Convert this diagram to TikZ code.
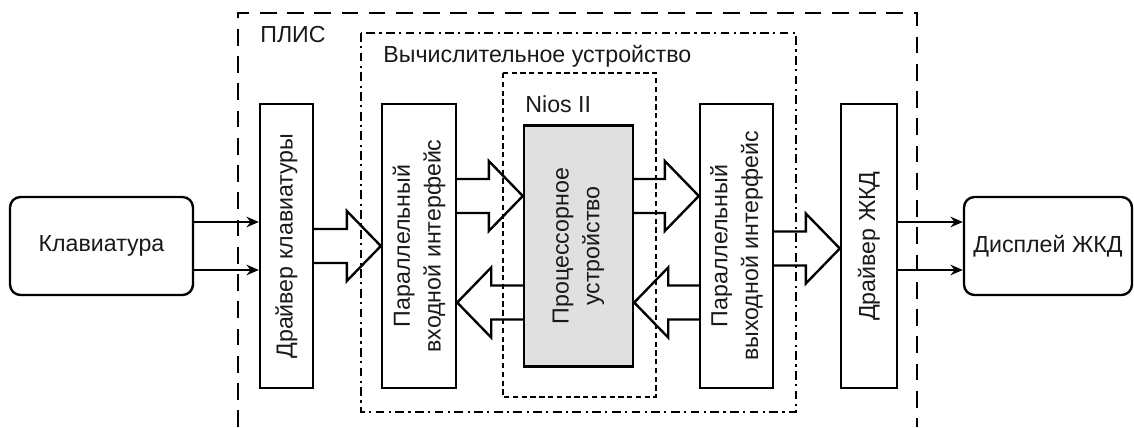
\documentclass[tikz,border=0pt]{standalone}
\usepackage{fontspec}
\setmainfont{Liberation Sans}
\usetikzlibrary{arrows.meta, positioning, calc}

% wide bus arrow: #1 from, #2 to, #3 vertical offset
\newcommand{\busshaft}{0.34cm}
\newcommand{\bushead}{0.70cm}
\newcommand{\busheadl}{0.68cm}
\newcommand{\busarrow}[3]{%
  \coordinate (bs) at ($(#1)+(0,#3)$);
  \coordinate (be) at ($(#2)+(0,#3)$);
  \coordinate (bh) at ($(be)!\busheadl!(bs)$);
  \draw[bus] ($(bs)!\busshaft!90:(be)$) -- ($(bh)!\busshaft!90:(be)$)
    -- ($(bh)!\bushead!90:(be)$) -- (be) -- ($(bh)!\bushead!-90:(be)$)
    -- ($(bh)!\busshaft!-90:(be)$) -- ($(bs)!\busshaft!-90:(be)$);
}

\begin{document}
\begin{tikzpicture}[
    every node/.style={font=\fontsize{13.2}{17.5}\selectfont, text=black!90},
    unit/.style={rectangle, draw=black, line width=1.35pt, minimum height=5.68cm, inner sep=0pt},
    device/.style={rectangle, rounded corners=6pt, draw=black, line width=1.35pt, minimum height=1.96cm, inner sep=0pt},
    vtext/.style={rotate=90, align=center, inner sep=0pt},
    title/.style={anchor=base west, inner sep=0pt},
    sig/.style={-{Stealth[length=7pt, width=6pt]}, line width=1.2pt},
    bus/.style={line width=1.35pt, line join=miter},
    plisbox/.style={line width=1.2pt, dash pattern=on 9.5pt off 6pt},
    vubox/.style={line width=1.2pt, dash pattern=on 5pt off 2.5pt on 1.2pt off 2.5pt},
    niosbox/.style={line width=1.2pt, dash pattern=on 3pt off 2pt}
]
\useasboundingbox (0,0) rectangle (22.68,-8.54);

% Containers
\draw[plisbox] (4.76,-8.54) |- (18.34,-0.26) -- (18.34,-8.54);
\node[title] (plis-t) at (5.20,-0.84) {ПЛИС};
\draw[vubox] (7.22,-0.66) rectangle (15.92,-8.24);
\node[title] (vu-t) at (7.66,-1.24) {Вычислительное устройство};
\draw[niosbox] (10.06,-1.46) rectangle (13.12,-7.94);
\node[title] (nios-t) at (10.50,-2.24) {Nios II};

% Blocks
\node[device, minimum width=3.66cm] (kbd) at (2.03,-4.92) {Клавиатура};
\node[unit, minimum width=1.06cm] (kdrv) at (5.73,-4.92) {};
\node[vtext] (kdrv-t) at (kdrv) {Драйвер клавиатуры};
\node[unit, minimum width=1.48cm] (pin) at (8.38,-4.92) {};
\node[vtext] (pin-t) at (pin) {Параллельный\\входной интерфейс};
\node[unit, minimum width=2.18cm, minimum height=4.82cm, fill=black!12] (proc) at (11.57,-4.92) {};
\node[vtext] (proc-t) at (proc) {Процессорное\\устройство};
\node[unit, minimum width=1.46cm] (pout) at (14.73,-4.92) {};
\node[vtext] (pout-t) at (pout) {Параллельный\\выходной интерфейс};
\node[unit, minimum width=1.12cm] (ldrv) at (17.38,-4.92) {};
\node[vtext] (ldrv-t) at (ldrv) {Драйвер ЖКД};
\node[device, minimum width=3.36cm] (disp) at (20.96,-4.92) {Дисплей ЖКД};

% Signal lines
\foreach \dy in {0.48,-0.48} {
  \draw[sig] ($(kbd.east)+(0,\dy)$) -- ($(kdrv.west)+(0,\dy)$);
  \draw[sig] ($(ldrv.east)+(0,\dy)$) -- ($(disp.west)+(0,\dy)$);
}

% Buses
\busarrow{kdrv.east}{pin.west}{0}
\busarrow{pin.east}{proc.west}{1.0}
\busarrow{proc.west}{pin.east}{-1.13}
\busarrow{proc.east}{pout.west}{1.0}
\busarrow{pout.west}{proc.east}{-1.13}
\busarrow{pout.east}{ldrv.west}{-0.05}

\end{tikzpicture}
\end{document}
